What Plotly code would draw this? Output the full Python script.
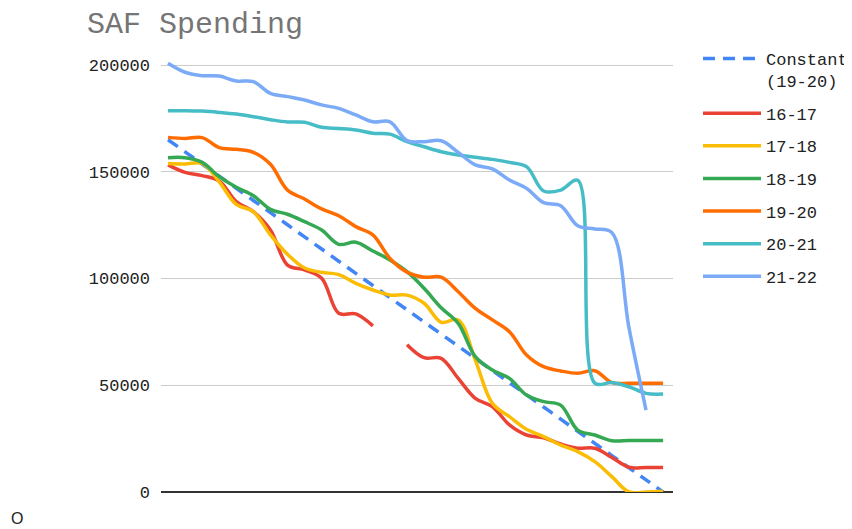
import plotly.graph_objects as go

periods = list(range(30))

constant_1920 = [165000, 159310, 153621, 147931, 142241, 136552, 130862, 125172, 119483, 113793,
                 108103, 102414, 96724, 91034, 85345, 79655, 73966, 68276, 62586, 56897,
                 51207, 45517, 39828, 34138, 28448, 22759, 17069, 11379, 5690, 0]

s1617 = [153200, 149700, 148200, 145700, 136000, 131300, 122700, 106300, 104000, 100100,
         83700, 83400, 77800, None, 69000, 62900, 62600, 53200, 43900, 40000,
         31400, 26700, 25400, 22500, 20500, 20500, 16200, 11600, 11500, 11500]

s1718 = [153900, 153600, 153900, 145300, 134700, 131300, 120400, 111300, 104900, 102900,
         101800, 97700, 94600, 92300, 92200, 88400, 79500, 80600, 61800, 41500,
         35300, 29400, 25900, 22000, 18900, 14200, 7200, 0, 0, 300]

s1819 = [156600, 156600, 154400, 147700, 142700, 138800, 132400, 130100, 126600, 122700,
         116000, 117000, 112900, 108700, 103200, 95400, 86300, 79000, 63400, 57100,
         53200, 45400, 42300, 40700, 29000, 26700, 24000, 24100, 24100, 24100]

s1920 = [166100, 165600, 166000, 161300, 160500, 159100, 153500, 141400, 137200, 132600,
         129400, 124300, 120400, 109400, 103000, 100600, 100600, 93800, 86000, 80600,
         75100, 64200, 58700, 56700, 55600, 56800, 51200, 50900, 50900, 50900]

s2021 = [178600, 178600, 178400, 177800, 177000, 175800, 174400, 173300, 173200, 170800,
         170300, 169600, 168000, 167600, 164100, 161700, 159400, 157800, 156800, 155800,
         154400, 152400, 141000, 141400, 146000, 51000, 51300, 49300, 46200, 45900]

s2122 = [200800, 196600, 195000, 194800, 192500, 192200, 186700, 185200, 183600, 181300,
         179700, 176600, 173400, 173400, 164600, 164100, 164500, 159100, 153200, 151300,
         146100, 142200, 135500, 134100, 124700, 123200, 121500, 77000, 38400, None]

series = [
    ("Constant<br>(19-20)", constant_1920, "#4285F4", "12px,8px"),
    ("16-17", s1617, "#EA4335", "solid"),
    ("17-18", s1718, "#FBBC04", "solid"),
    ("18-19", s1819, "#34A853", "solid"),
    ("19-20", s1920, "#FF6D01", "solid"),
    ("20-21", s2021, "#46BDC6", "solid"),
    ("21-22", s2122, "#7BAAF7", "solid"),
]

y_ticks = [0, 50000, 100000, 150000, 200000]

MONO = "Liberation Mono, Courier New, monospace"

# page body has an 8px margin, so the figure is laid out 8px smaller
W, H = 844, 521
L, T, PW, PH = 153, 46, 512, 438

fig = go.Figure()
for i, (name, vals, color, dash) in enumerate(series):
    fig.add_trace(go.Scatter(
        x=periods, y=vals, name=name, mode="lines",
        line=dict(color=color, width=3.5, dash=dash, shape="spline", smoothing=1.0),
        connectgaps=False, legendgroup=f"g{i}", hoverinfo="skip",
    ))

fig.update_layout(
    width=W, height=H,
    margin=dict(l=L, r=W - L - PW, t=T, b=H - T - PH, autoexpand=False),
    paper_bgcolor="white", plot_bgcolor="white",
    title=dict(text="SAF Spending", x=79 / W, xanchor="left", xref="container",
               y=1 - 14 / H, yanchor="middle", yref="container",
               font=dict(family=MONO, size=30, color="#757575")),
    showlegend=True,
    legend=dict(x=690 / W, xref="container", xanchor="left",
                y=1 - 33 / H, yref="container", yanchor="top", valign="top",
                font=dict(family=MONO, size=17, color="#222222"),
                tracegroupgap=7.5, itemwidth=58, bgcolor="rgba(0,0,0,0)"),
    xaxis=dict(range=[-0.41, 29.58], showticklabels=False, showgrid=False,
               zeroline=False, showline=False, ticks=""),
    yaxis=dict(range=[0, 205152], tickvals=y_ticks, ticktext=[str(v) for v in y_ticks],
               showgrid=True, gridcolor="#cccccc", gridwidth=1,
               zeroline=True, zerolinecolor="#333333", zerolinewidth=1.5,
               tickfont=dict(family=MONO, size=17, color="#222222"),
               ticks="", ticklabelstandoff=10),
    annotations=[dict(text="O", x=(8.5 - L) / PW, y=(T + PH - 510) / PH,
                      xref="paper", yref="paper", xanchor="center", yanchor="middle",
                      showarrow=False,
                      font=dict(family="Liberation Sans, Arial", size=16, color="#222222"))],
)

fig.write_html("out.html")
